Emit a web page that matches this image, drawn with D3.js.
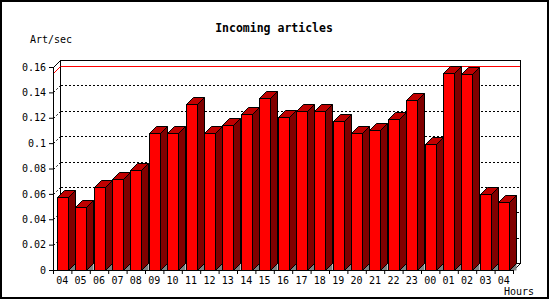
<!DOCTYPE html>
<html>
<head>
<meta charset="utf-8">
<script src="https://cdn.jsdelivr.net/npm/d3@7"></script>
<style>
  body { margin: 0; background: #fff; }
  text { font-family: "DejaVu Sans Mono", monospace; fill: #000; }
</style>
</head>
<body>
<div id="container"></div>
<script>
// data
const hours = ["04","05","06","07","08","09","10","11","12","13","14","15","16",
               "17","18","19","20","21","22","23","00","01","02","03","04"];
const artPerSec = [0.0574, 0.0495, 0.0653, 0.0716, 0.0787, 0.1079, 0.1079, 0.1308, 0.1079,
                   0.1142, 0.1229, 0.1355, 0.1205, 0.1253, 0.1253, 0.1174, 0.1079, 0.1103,
                   0.1190, 0.1340, 0.0992, 0.1553, 0.1545, 0.0598, 0.0534];
const yTicks = [0, 0.02, 0.04, 0.06, 0.08, 0.1, 0.12, 0.14, 0.16];

const W = 550, H = 300;
const plotLeft = 53, plotRight = 513, plotBottom = 270, plotTop = 67;
const depth = 7; // 3d offset

const svg = d3.select("#container").append("svg")
  .attr("width", W)
  .attr("height", H);

// outer frame
svg.append("rect")
  .attr("x", 1).attr("y", 1)
  .attr("width", 547).attr("height", 297)
  .attr("fill", "#fff")
  .attr("stroke", "#000")
  .attr("stroke-width", 2);

const idx = d3.range(hours.length);
const x = d3.scaleBand().domain(idx).range([plotLeft, plotRight]).padding(0);
const xEdge = d3.scaleLinear().domain([0, hours.length]).range([plotLeft, plotRight]);
const y = d3.scaleLinear().domain([0, 0.16]).range([plotBottom, plotTop]);

// back wall
svg.append("rect")
  .attr("x", plotLeft + depth + 0.5)
  .attr("y", y(0.16) - depth + 0.5)
  .attr("width", plotRight - plotLeft)
  .attr("height", y(0) - y(0.16))
  .attr("fill", "#fff")
  .attr("stroke", "#000");

// grid lines on the back wall + the little diagonals
const grid = svg.append("g").attr("class", "grid");
yTicks.filter(t => t > 0 && t < 0.16).forEach(t => {
  const gy = Math.round(y(t));
  grid.append("line")
    .attr("x1", plotLeft + depth + 1).attr("x2", plotRight + depth)
    .attr("y1", gy - depth + 0.5).attr("y2", gy - depth + 0.5)
    .attr("stroke", "#000")
    .attr("stroke-dasharray", "2,2");
  grid.append("line")
    .attr("x1", plotLeft + 0.5).attr("y1", gy + 0.5)
    .attr("x2", plotLeft + depth + 0.5).attr("y2", gy - depth + 0.5)
    .attr("stroke", "#000")
    .attr("stroke-dasharray", "2,2");
});

// red line at the max value
const maxY = Math.round(y(d3.max(artPerSec)));
svg.append("line")
  .attr("x1", plotLeft + depth + 1).attr("x2", plotRight + depth)
  .attr("y1", maxY - depth + 0.5).attr("y2", maxY - depth + 0.5)
  .attr("stroke", "#ff0000");
svg.append("line")
  .attr("x1", plotLeft + 0.5).attr("y1", maxY + 0.5)
  .attr("x2", plotLeft + depth + 0.5).attr("y2", maxY - depth + 0.5)
  .attr("stroke", "#ff0000");

// connecting diagonals front -> back
svg.append("line")
  .attr("x1", plotLeft + 0.5).attr("y1", y(0.16) + 0.5)
  .attr("x2", plotLeft + depth + 0.5).attr("y2", y(0.16) - depth + 0.5)
  .attr("stroke", "#000");
svg.append("line")
  .attr("x1", plotRight + 0.5).attr("y1", plotBottom + 0.5)
  .attr("x2", plotRight + depth + 0.5).attr("y2", plotBottom - depth + 0.5)
  .attr("stroke", "#000");

// bars
const barW = 11;
const bars = svg.append("g").attr("class", "bars");
artPerSec.forEach((v, i) => {
  const fl = Math.round(x(i) + (x.bandwidth() - barW) / 2) + 0.5;
  const fr = fl + barW;
  const ty = Math.round(y(v)) + 0.5;
  const by = plotBottom + 0.5;
  // floor shadow
  bars.append("path")
    .attr("d", `M${fr},${by}L${fr + depth},${by - depth}L${fr + depth},${by}Z`)
    .attr("fill", "#808080");
  // side
  bars.append("path")
    .attr("d", `M${fr},${ty}L${fr + depth},${ty - depth}L${fr + depth},${by - depth}L${fr},${by}Z`)
    .attr("fill", "#800000")
    .attr("stroke", "#000");
  // top
  bars.append("path")
    .attr("d", `M${fl},${ty}L${fl + depth},${ty - depth}L${fr + depth},${ty - depth}L${fr},${ty}Z`)
    .attr("fill", "#c00000")
    .attr("stroke", "#000");
  // front
  bars.append("rect")
    .attr("x", fl).attr("y", ty)
    .attr("width", barW).attr("height", by - ty)
    .attr("fill", "#ff0000")
    .attr("stroke", "#000");
});

// y axis
svg.append("g")
  .attr("transform", `translate(${plotLeft},0)`)
  .call(d3.axisLeft(y).tickValues(yTicks).tickSize(4).tickPadding(3)
    .tickFormat(d => String(+d.toFixed(2))))
  .call(g => g.selectAll("text").style("font-size", "10px").attr("font-family", null))
  .call(g => g.select(".domain").attr("d", `M0.5,${y(0.16)}V${plotBottom + 0.5}`));

// x axis: ticks at slot edges, labels in the middle
svg.append("g")
  .attr("transform", `translate(0,${plotBottom})`)
  .call(d3.axisBottom(xEdge).tickValues(d3.range(hours.length + 1)).tickSize(4).tickFormat(""))
  .call(g => g.select(".domain").attr("d", `M${plotLeft},0.5H${plotRight + 0.5}`));

svg.append("g")
  .selectAll("text")
  .data(idx)
  .join("text")
  .attr("x", d => x(d) + x.bandwidth() / 2)
  .attr("y", 284)
  .attr("text-anchor", "middle")
  .style("font-size", "10px")
  .text(d => hours[d]);

// titles
svg.append("text")
  .attr("x", 274).attr("y", 32)
  .attr("text-anchor", "middle")
  .style("font-size", "11.5px")
  .style("font-weight", "bold")
  .text("Incoming articles");

svg.append("text")
  .attr("x", 30).attr("y", 43)
  .style("font-size", "10px")
  .text("Art/sec");

svg.append("text")
  .attr("x", 519).attr("y", 295)
  .attr("text-anchor", "middle")
  .style("font-size", "10px")
  .text("Hours");
</script>
</body>
</html>
